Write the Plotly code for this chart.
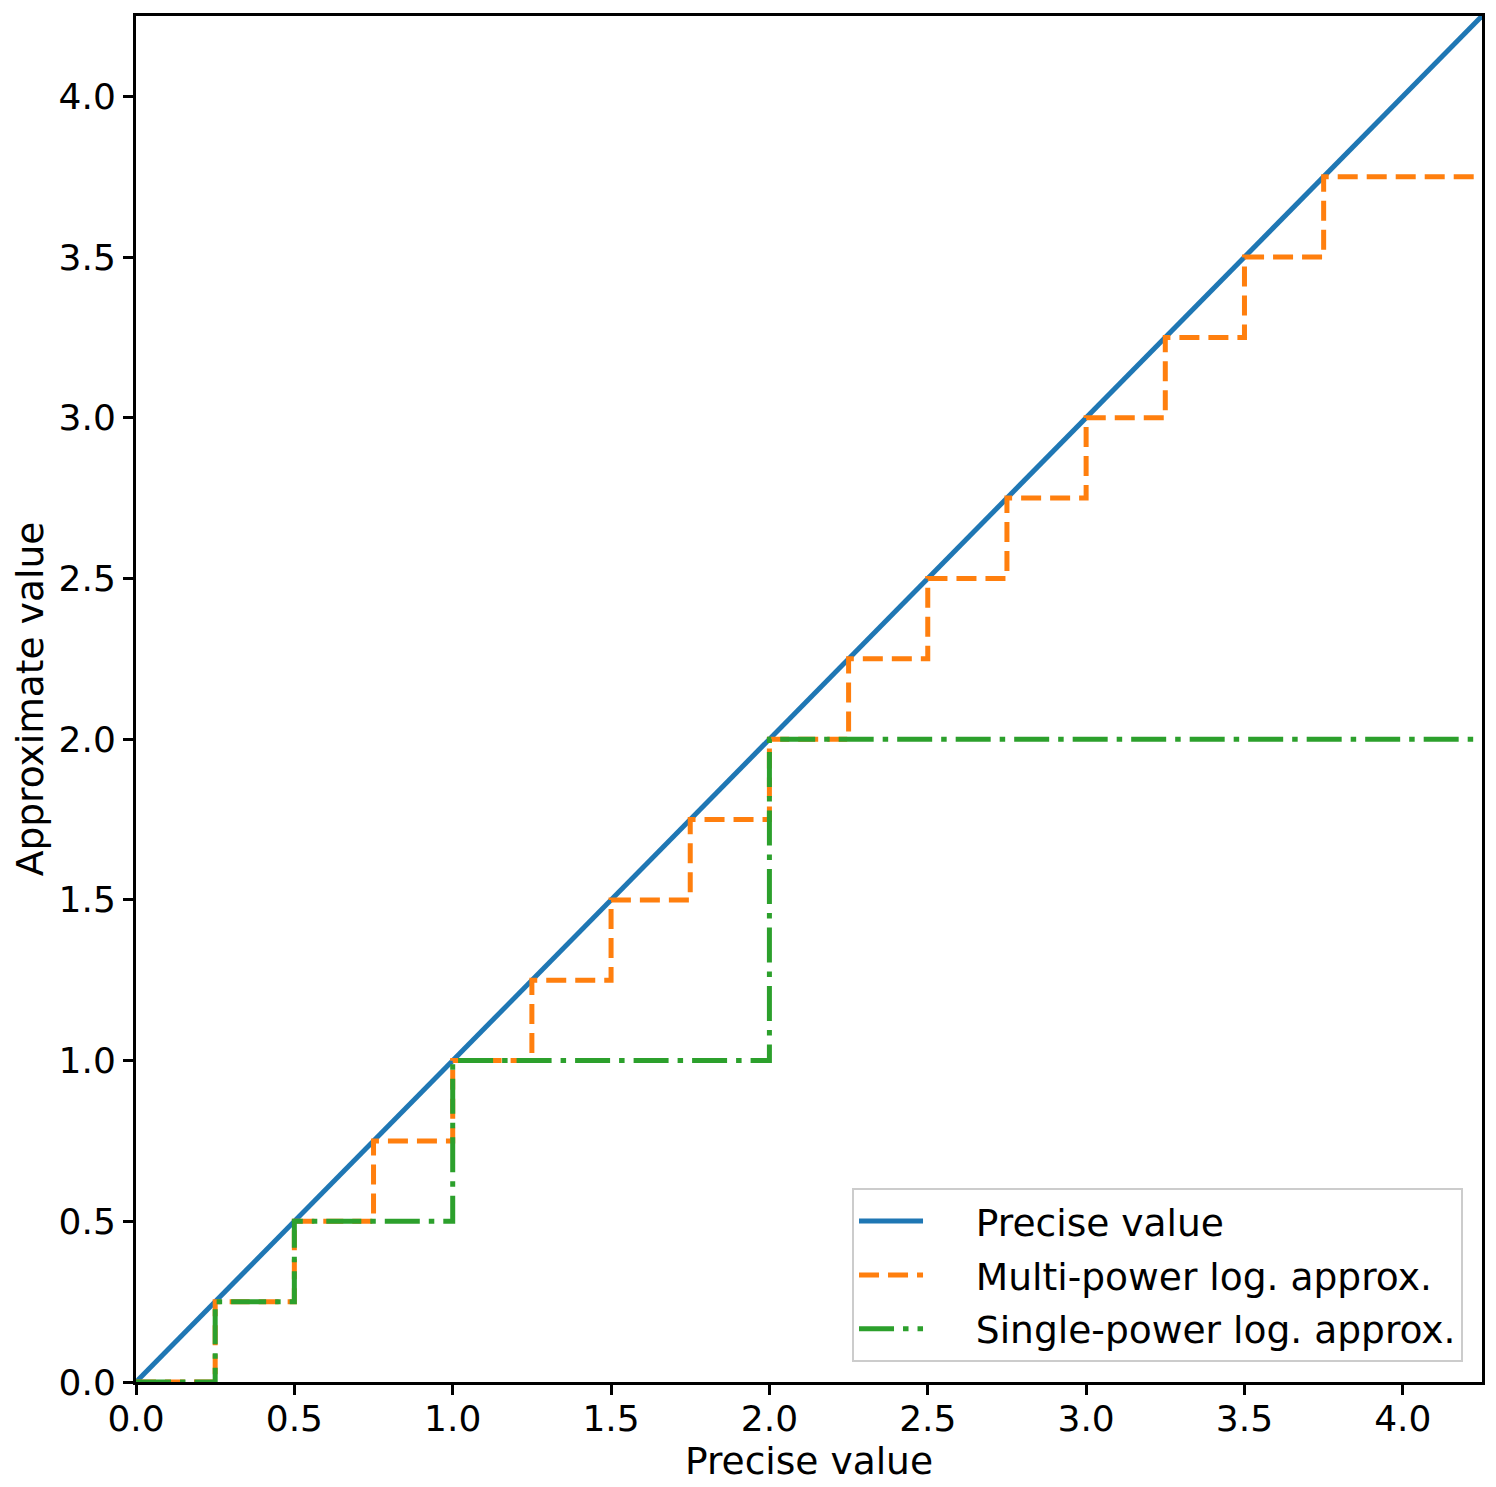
import plotly.graph_objects as go

# Data
precise_x = [0.0, 4.25]
precise_y = [0.0, 4.25]

multi_x = [0.0, 0.25, 0.5, 0.75, 1.0, 1.25, 1.5, 1.75, 2.0, 2.25, 2.5, 2.75, 3.0, 3.25, 3.5, 3.75, 4.25]
multi_y = [0.0, 0.25, 0.5, 0.75, 1.0, 1.25, 1.5, 1.75, 2.0, 2.25, 2.5, 2.75, 3.0, 3.25, 3.5, 3.75, 3.75]

single_x = [0.0, 0.25, 0.5, 1.0, 2.0, 4.25]
single_y = [0.0, 0.25, 0.5, 1.0, 2.0, 2.0]

tick_vals = [0.0, 0.5, 1.0, 1.5, 2.0, 2.5, 3.0, 3.5, 4.0]

FONT = "DejaVu Sans"
FS_TICK = 36
FS = 37.6
PAD = "&nbsp;" * 4

fig = go.Figure()
fig.add_trace(go.Scatter(x=precise_x, y=precise_y, mode="lines", name=PAD + "Precise value",
                         legendgroup="a",
                         line=dict(color="#1f77b4", width=5)))
fig.add_trace(go.Scatter(x=multi_x, y=multi_y, mode="lines", name=PAD + "Multi-power log. approx.",
                         legendgroup="b", line_shape="hv",
                         line=dict(color="#ff7f0e", width=5, dash="20px,9px")))
fig.add_trace(go.Scatter(x=single_x, y=single_y, mode="lines", name=PAD + "Single-power log. approx.",
                         legendgroup="c", line_shape="hv",
                         line=dict(color="#2ca02c", width=5, dash="35px,9px,5.5px,9px")))

axis_common = dict(
    range=[0, 4.25], tickvals=tick_vals, tickformat=".1f",
    showgrid=False, zeroline=False,
    showline=True, linewidth=3, linecolor="black", mirror=True,
    ticks="outside", ticklen=10, tickwidth=3, tickcolor="black",
    tickfont=dict(family=FONT, size=FS_TICK, color="black"),
)

fig.update_xaxes(**axis_common, ticklabelstandoff=-7,
                 title=dict(text="Precise value", font=dict(family=FONT, size=FS, color="black"), standoff=10))
fig.update_yaxes(**axis_common,
                 title=dict(text="Approximate value", font=dict(family=FONT, size=FS, color="black"), standoff=12))

fig.update_layout(
    width=1488, height=1479,
    margin=dict(l=128, r=14, t=5, b=105),
    plot_bgcolor="white", paper_bgcolor="white",
    font=dict(family=FONT, size=FS, color="black"),
    legend=dict(
        x=0.9859, y=0.0146, xanchor="right", yanchor="bottom",
        bgcolor="white", bordercolor="#cccccc", borderwidth=2,
        font=dict(family=FONT, size=FS, color="black"),
        itemwidth=64, tracegroupgap=2,
    ),
)

fig.write_html("out.html")
